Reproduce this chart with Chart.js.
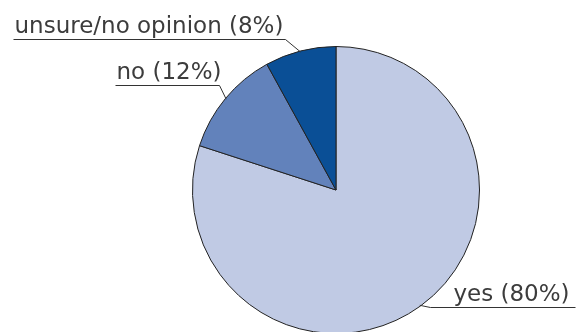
<!DOCTYPE html>
<html>
<head>
<meta charset="utf-8">
<script src="https://cdn.jsdelivr.net/npm/chart.js@4/dist/chart.umd.min.js"></script>
<style>
  html, body { margin: 0; padding: 0; background: #fff; }
  #wrap { width: 577px; height: 332px; overflow: hidden; position: relative; }
  #wrap canvas { position: absolute; left: 0; top: 0; }
</style>
</head>
<body>
<div id="wrap"><canvas id="pie" width="577" height="340"></canvas></div>
<script>
const answers = ['yes', 'no', 'unsure/no opinion'];
const shares  = [80, 12, 8];
const colours = ['#c0cae4', '#6282bb', '#0a4f96'];

// where each callout bends and how far its underline runs
const callouts = [
  { dx: 10,  dy: 2,   side: 'right', len: 145 },
  { dx: -7,  dy: -14, side: 'left',  len: 104 },
  { dx: -16, dy: -13, side: 'left',  len: 272 }
];

const calloutPlugin = {
  id: 'callouts',
  afterDatasetsDraw(chart) {
    const c = chart.ctx;
    const arcs = chart.getDatasetMeta(0).data;
    c.save();
    c.strokeStyle = '#333';
    c.lineWidth = 1;
    c.fillStyle = '#3c3c3c';
    c.font = '23px "DejaVu Sans"';
    c.textBaseline = 'alphabetic';
    arcs.forEach((arc, i) => {
      const p = arc.getProps(['x', 'y', 'startAngle', 'endAngle', 'outerRadius'], true);
      const mid = (p.startAngle + p.endAngle) / 2;
      const sx = p.x + Math.cos(mid) * (p.outerRadius - 1);
      const sy = p.y + Math.sin(mid) * (p.outerRadius - 1);
      const o = callouts[i];
      const ex = Math.round(sx + o.dx) + 0.5;
      const ey = Math.round(sy + o.dy) + 0.5;
      const endX = o.side === 'left' ? ex - o.len : ex + o.len;
      c.beginPath();
      c.moveTo(sx, sy);
      c.lineTo(ex, ey);
      c.lineTo(endX, ey);
      c.stroke();
      const text = `${answers[i]} (${shares[i]}%)`;
      if (o.side === 'left') {
        c.textAlign = 'left';
        c.fillText(text, endX + 1, ey - 7);
      } else {
        c.textAlign = 'right';
        c.fillText(text, endX - 6, ey - 7);
      }
    });
    c.restore();
  }
};

new Chart(document.getElementById('pie'), {
  type: 'pie',
  data: {
    labels: answers,
    datasets: [{
      data: shares,
      backgroundColor: colours,
      borderColor: '#222',
      borderWidth: 1
    }]
  },
  options: {
    responsive: false,
    animation: false,
    layout: { padding: { left: 192, right: 97, top: 46, bottom: 6 } },
    plugins: {
      legend: { display: false },
      tooltip: { enabled: false }
    }
  },
  plugins: [calloutPlugin]
});
</script>
</body>
</html>
